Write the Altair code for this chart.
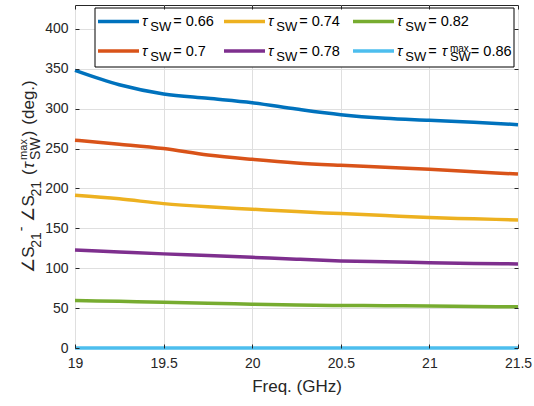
import altair as alt
import pandas as pd

# Frequency sweep (GHz)
freq = [19.0, 19.25, 19.5, 19.75, 20.0, 20.25, 20.5, 20.75, 21.0, 21.25, 21.5]

# Switch duty-cycle settings and their phase offsets relative to tau_max (deg.)
tau_values = ["0.66", "0.7", "0.74", "0.78", "0.82", "0.86"]
phase_066 = [348, 330, 318.5, 313, 307.5, 299.5, 292.5, 288, 285.5, 283, 280]
phase_070 = [260.5, 255.5, 250, 242, 236.5, 232, 229, 226.5, 224, 221, 218]
phase_074 = [191.5, 187, 181, 177, 174, 171, 168.5, 166, 163.5, 162, 160.5]
phase_078 = [123, 120.5, 118, 116, 113.7, 111.3, 109.2, 108, 107, 106, 105.4]
phase_082 = [59.5, 58.5, 57.5, 56, 55, 54, 53.3, 53, 52.5, 52, 51.6]
phase_086 = [0, 0, 0, 0, 0, 0, 0, 0, 0, 0, 0]

x_ticks = [19, 19.5, 20, 20.5, 21, 21.5]
y_ticks = [0, 50, 100, 150, 200, 250, 300, 350, 400]

colors = ["#0072BD", "#D95319", "#EDB120", "#7E2F8E", "#77AC30", "#4DBEEE"]

series = [phase_066, phase_070, phase_074, phase_078, phase_082, phase_086]
rows = []
for tau, vals in zip(tau_values, series):
    for f, v in zip(freq, vals):
        rows.append({"freq": f, "phase": v, "tau": tau})
df = pd.DataFrame(rows)

W, H = 443, 343
FONT = "Liberation Sans"
INK = "#262626"

x_scale = alt.Scale(domain=[19, 21.5], nice=False, zero=False)
y_scale = alt.Scale(domain=[0, 430], nice=False)
color_scale = alt.Scale(domain=tau_values, range=colors)

lines = alt.Chart(df).mark_line(strokeWidth=3.5, interpolate="monotone", clip=False).encode(
    x=alt.X("freq:Q", scale=x_scale, axis=alt.Axis(
        values=x_ticks, format="~g", title="Freq. (GHz)", grid=True, gridColor="#dfdfdf",
        tickSize=0, domain=False, labelFlush=False, labelPadding=8,
        labelFont=FONT, labelFontSize=14, labelColor=INK,
        titleFont=FONT, titleFontSize=17, titleFontWeight="normal", titleColor=INK,
        titlePadding=8)),
    y=alt.Y("phase:Q", scale=y_scale, axis=alt.Axis(
        values=y_ticks, title=None, grid=True, gridColor="#dfdfdf",
        tickSize=0, domain=False, labelFlush=False, labelPadding=7,
        labelFont=FONT, labelFontSize=14, labelColor=INK)),
    color=alt.Color("tau:N", scale=color_scale, legend=None),
)


def tick_axis(orient, values):
    # ticks drawn on the inside of the frame
    return alt.Axis(orient=orient, values=values, offset=-4, tickSize=4, tickColor=INK,
                    labels=False, domain=False, grid=False, title=None, zindex=1)


ticks_a = alt.Chart(df).mark_point(opacity=0).encode(
    x=alt.X("freq:Q", scale=x_scale, axis=tick_axis("bottom", x_ticks)),
    y=alt.Y("phase:Q", scale=y_scale, axis=tick_axis("left", y_ticks)),
)
ticks_b = alt.Chart(df).mark_point(opacity=0).encode(
    x=alt.X("freq:Q", scale=x_scale, axis=tick_axis("top", x_ticks)),
    y=alt.Y("phase:Q", scale=y_scale, axis=tick_axis("right", y_ticks)),
)

one = pd.DataFrame({"k": [0]})

# approximate advance widths (em) for laying out rich text pieces
EM = {"S": 0.667, "W": 0.944, "m": 0.833, "a": 0.556, "x": 0.5, "(": 0.333, ")": 0.333,
      "-": 0.333, " ": 0.278, ".": 0.278, "=": 0.584, "\u03c4": 0.5, "\u2220": 0.8,
      "d": 0.556, "e": 0.556, "g": 0.556}


def tw(s, fs):
    return fs * sum(EM.get(c, 0.556) for c in s)


def piece(text, x, y, fs, color="black", angle=0, style="normal"):
    return alt.Chart(one).mark_text(
        text=text, fontSize=fs, font=FONT, color=color, align="left", baseline="alphabetic",
        angle=angle, fontStyle=style,
    ).encode(x=alt.value(x), y=alt.value(y))


layers = [lines, ticks_a, ticks_b]

# legend frame
layers.append(alt.Chart(one).mark_rect(fill="white", stroke="black", strokeWidth=1).encode(
    x=alt.value(20), x2=alt.value(439), y=alt.value(3), y2=alt.value(62)))

FS, FS_SUB, FS_SUP = 14.5, 13, 10
col_x = [23, 149, 278]
row_base = [21, 50.5]
sym_len = 41
for i, (tau, col) in enumerate(zip(tau_values, colors)):
    c, r = i // 2, i % 2
    x0, yb = col_x[c], row_base[r]
    layers.append(alt.Chart(one).mark_rule(color=col, strokeWidth=3.5).encode(
        x=alt.value(x0), x2=alt.value(x0 + sym_len), y=alt.value(yb - 4.5)))
    tx = x0 + sym_len + 3
    layers.append(piece("\u03c4", tx, yb, FS, style="italic"))
    tx += tw("\u03c4", FS) + 1
    layers.append(piece("SW", tx, yb + 5, FS_SUB))
    tx += tw("SW", FS_SUB) + 2
    if i == len(tau_values) - 1:
        layers.append(piece("=", tx, yb, FS))
        tx += tw("=", FS) + 5
        layers.append(piece("\u03c4", tx, yb, FS, style="italic"))
        tx += tw("\u03c4", FS) + 1
        layers.append(piece("max", tx, yb - 4, FS_SUP))
        layers.append(piece("SW", tx, yb + 5, FS_SUB))
        tx += max(tw("max", FS_SUP), tw("SW", FS_SUB))
    layers.append(piece("= " + tau, tx, yb, FS))

# rotated y-axis title with sub/superscripts: (text, size, baseline shift, gap before)
FT, FT_SUB, FT_SUP = 17, 14, 11
title_parts = [
    ("\u2220S", FT, 0, 0), ("21", FT_SUB, 7, 0), ("-", FT_SUB, -8, 1),
    ("\u2220S", FT, 0, 5), ("21", FT_SUB, 7, 0), ("(", FT, 0, 6),
    ("\u03c4", FT, 0, 1), ("STACK", 0, 0, 0), (")", FT, 0, 1), ("(deg.)", FT, 0, 6),
]
stack_w = max(tw("max", FT_SUP), tw("SW", FT_SUB))
total = sum((stack_w if t == "STACK" else tw(t, fs)) + g for t, fs, _, g in title_parts)
base_x = -41
adv = H / 2 + total / 2
for t, fs, shift, gap in title_parts:
    adv -= gap
    if t == "STACK":
        layers.append(piece("max", base_x - 7, adv, FT_SUP, color=INK, angle=270))
        layers.append(piece("SW", base_x + 6, adv, FT_SUB, color=INK, angle=270))
        adv -= stack_w
    else:
        style = "italic" if t == "\u03c4" else "normal"
        layers.append(piece(t, base_x + shift, adv, fs, color=INK, angle=270, style=style))
        adv -= tw(t, fs)

chart = alt.layer(*layers).resolve_axis(x="independent", y="independent").properties(
    width=W, height=H,
    autosize=alt.AutoSizeParams(type="none"),
    padding={"left": 75, "top": 5, "right": 16, "bottom": 58},
).configure_view(stroke=INK, strokeWidth=1)

chart.save("out.html", embed_options={"renderer": "svg", "actions": False})
